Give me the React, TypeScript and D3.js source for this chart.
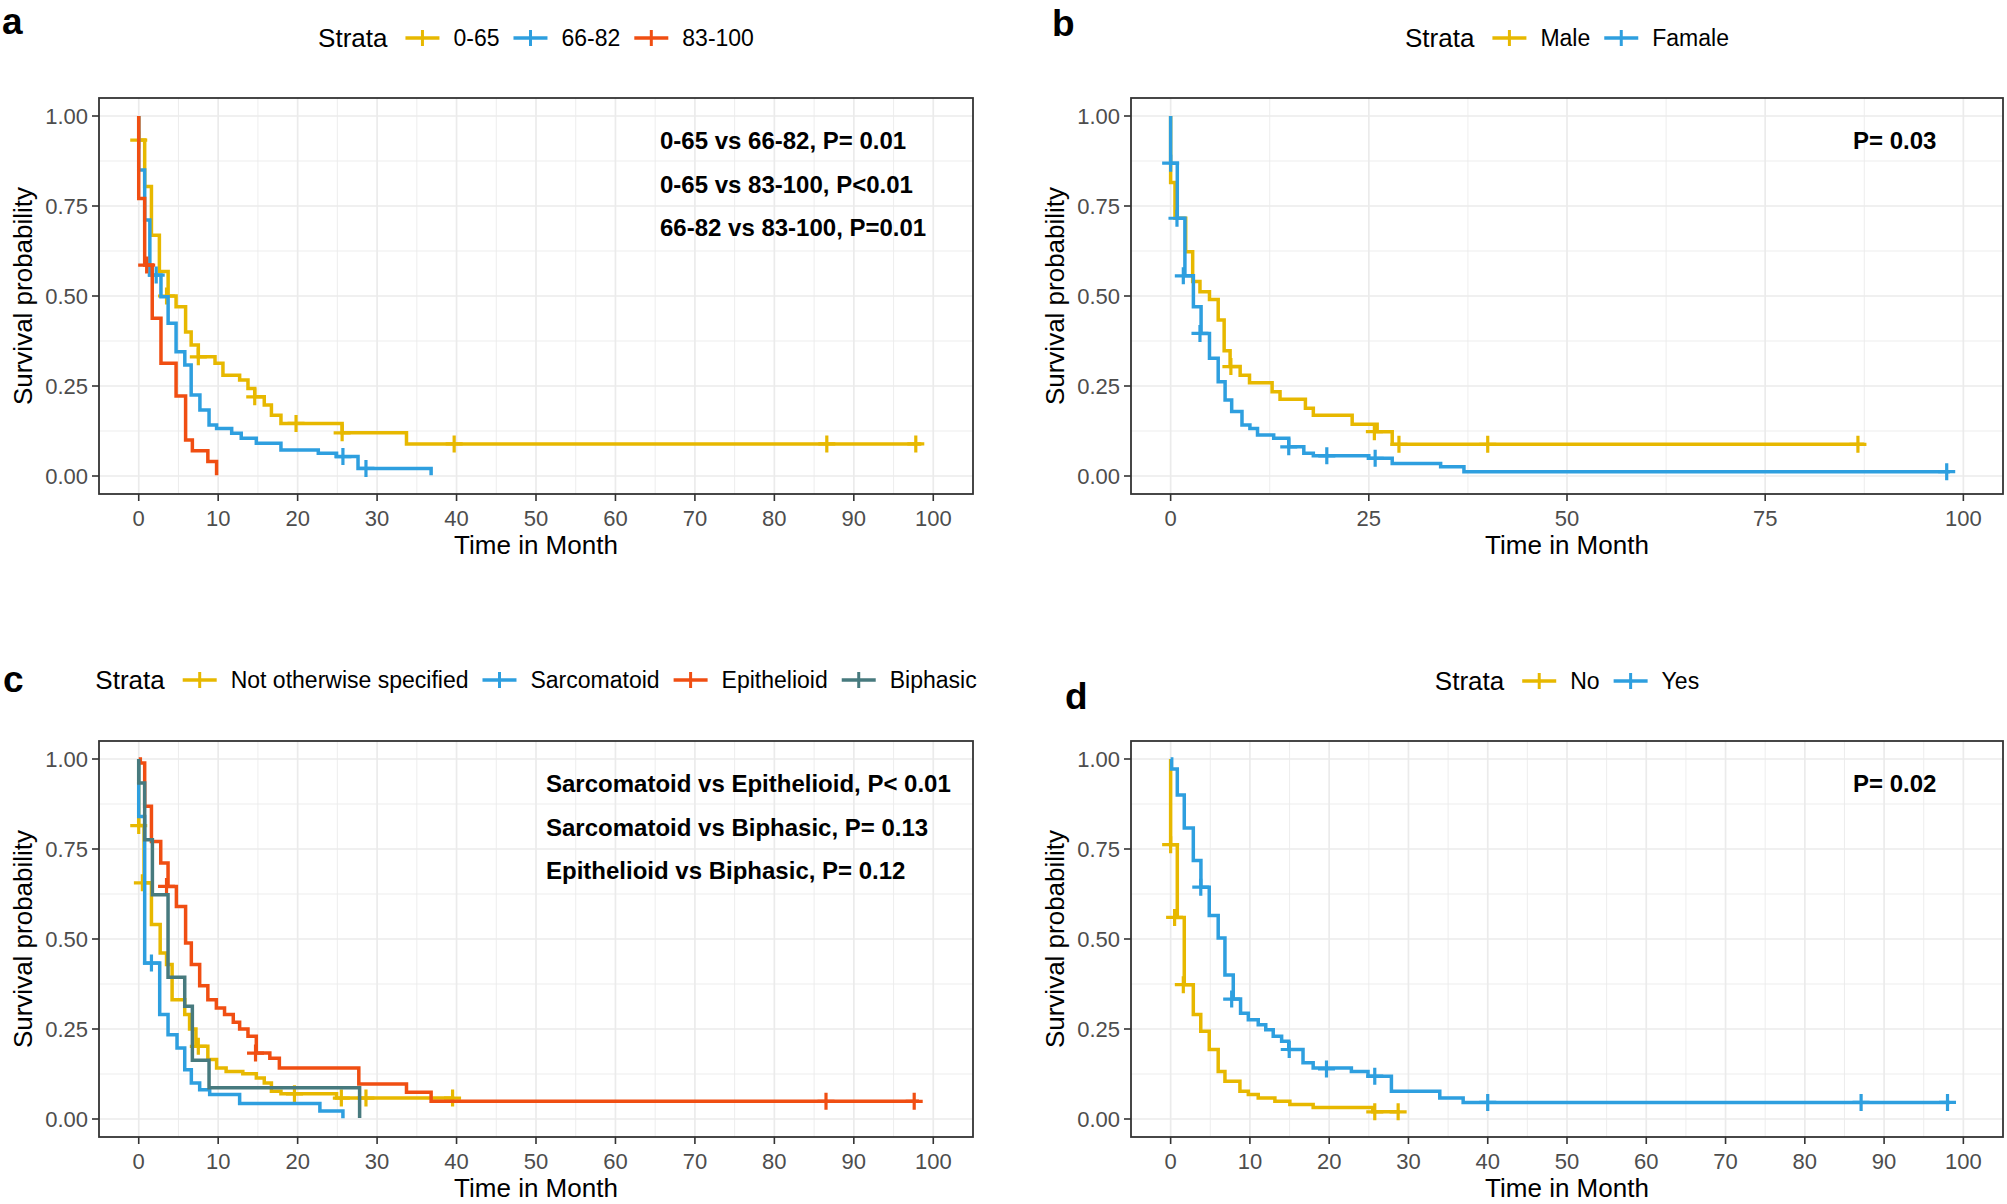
import { useMemo } from 'react';
import { scaleLinear, line, curveStepAfter, range } from 'd3';

type Pt = [number, number];

const YELLOW = '#E7B800';
const BLUE = '#2E9FDF';
const RED = '#F04E12';
const TEAL = '#477A7E';

const FONT = '"Liberation Sans", Arial, sans-serif';

// ---- panel a: age strata ----
const A_LABELS = ['0-65', '66-82', '83-100'];
const A_STEPS_0_65: Pt[] = [
  [0, 1], [0, 0.933], [0.75, 0.804], [1.6, 0.669], [2.6, 0.568], [3.7, 0.5], [4.7, 0.47],
  [5.9, 0.4], [6.6, 0.364], [7.5, 0.331], [9.6, 0.313], [10.6, 0.28], [12.7, 0.267],
  [13.75, 0.243], [14.6, 0.22], [15.8, 0.197], [16.7, 0.169], [17.9, 0.146], [25.6, 0.12],
  [33.7, 0.089], [98.5, 0.089],
];
const A_CENS_0_65: Pt[] = [
  [0, 0.933], [3.5, 0.5], [7.5, 0.331], [14.6, 0.22], [19.8, 0.146], [25.6, 0.12],
  [39.7, 0.089], [86.6, 0.089], [97.8, 0.089],
];
const A_STEPS_66_82: Pt[] = [
  [0, 1], [0, 0.85], [0.75, 0.711], [1.4, 0.558], [2.8, 0.498], [3.7, 0.424], [4.7, 0.345],
  [5.8, 0.308], [6.6, 0.225], [7.7, 0.183], [8.85, 0.142], [9.8, 0.132], [11.7, 0.119],
  [12.9, 0.105], [14.8, 0.091], [17.9, 0.072], [22.6, 0.063], [24.9, 0.054], [27.6, 0.021],
  [36.8, 0.002],
];
const A_CENS_66_82: Pt[] = [[2.2, 0.558], [25.7, 0.054], [28.6, 0.021]];
const A_STEPS_83_100: Pt[] = [
  [0, 1], [0, 0.771], [0.75, 0.586], [1.7, 0.438], [2.8, 0.313], [4.7, 0.222], [5.9, 0.1],
  [6.75, 0.07], [8.7, 0.04], [9.8, 0.002],
];
const A_CENS_83_100: Pt[] = [[1.0, 0.586]];
const A_NOTES = ['0-65 vs 66-82, P= 0.01', '0-65 vs 83-100, P<0.01', '66-82 vs 83-100, P=0.01'];

// ---- panel b: sex strata ----
const B_LABELS = ['Male', 'Famale'];
const B_STEPS_MALE: Pt[] = [
  [0, 1], [0, 0.815], [0.55, 0.716], [1.9, 0.623], [2.78, 0.54], [3.7, 0.512], [4.9, 0.49],
  [6.0, 0.433], [6.75, 0.348], [7.5, 0.304], [8.77, 0.28], [9.95, 0.259], [12.8, 0.234],
  [13.8, 0.213], [17.0, 0.188], [18.0, 0.169], [22.9, 0.144], [26.05, 0.123], [27.95, 0.088],
  [87.5, 0.088],
];
const B_CENS_MALE: Pt[] = [[7.6, 0.304], [25.7, 0.123], [28.8, 0.088], [40.0, 0.088], [86.7, 0.088]];
const B_STEPS_FEMALE: Pt[] = [
  [0, 1], [0, 0.869], [0.84, 0.716], [1.8, 0.556], [2.87, 0.47], [3.84, 0.396], [4.9, 0.327],
  [6.0, 0.262], [6.87, 0.211], [7.7, 0.179], [9.0, 0.142], [10.0, 0.132], [10.96, 0.114],
  [13.0, 0.105], [14.9, 0.081], [16.8, 0.063], [18.0, 0.056], [25.0, 0.049], [27.95, 0.035],
  [34.06, 0.026], [37.0, 0.012], [98.3, 0.012],
];
const B_CENS_FEMALE: Pt[] = [
  [0, 0.869], [0.8, 0.716], [1.6, 0.556], [3.7, 0.396], [14.9, 0.081], [19.7, 0.056],
  [25.8, 0.049], [97.9, 0.012],
];
const B_NOTES = ['P= 0.03'];

// ---- panel c: histology strata ----
const C_LABELS = ['Not otherwise specified', 'Sarcomatoid', 'Epithelioid', 'Biphasic'];
const C_STEPS_NOS: Pt[] = [
  [0, 1], [0, 0.815], [0.67, 0.656], [1.6, 0.54], [2.7, 0.461], [3.5, 0.429], [4.2, 0.331],
  [5.79, 0.29], [6.4, 0.25], [7.2, 0.202], [8.7, 0.165], [9.8, 0.142], [11.0, 0.132],
  [13.1, 0.126], [14.8, 0.114], [15.8, 0.1], [16.7, 0.077], [17.9, 0.07], [24.9, 0.058],
  [39.7, 0.058],
];
const C_CENS_NOS: Pt[] = [
  [0, 0.815], [0.46, 0.656], [7.5, 0.202], [19.6, 0.07], [25.5, 0.058], [28.6, 0.058], [39.5, 0.058],
];
const C_STEPS_SAR: Pt[] = [
  [0, 1], [0, 0.84], [0.75, 0.433], [2.64, 0.29], [3.69, 0.234], [4.82, 0.197], [5.79, 0.137],
  [6.62, 0.1], [7.67, 0.081], [8.93, 0.068], [12.7, 0.043], [22.8, 0.022], [25.7, 0.002],
];
const C_CENS_SAR: Pt[] = [[1.6, 0.433]];
const C_STEPS_EPI: Pt[] = [
  [0, 1], [0.2, 0.989], [0.75, 0.869], [1.6, 0.771], [2.77, 0.711], [3.69, 0.646], [4.74, 0.59],
  [5.9, 0.489], [6.62, 0.429], [7.67, 0.37], [8.7, 0.331], [9.77, 0.308], [10.8, 0.29],
  [11.9, 0.269], [12.7, 0.25], [13.75, 0.23], [14.8, 0.183], [16.5, 0.169], [17.7, 0.142],
  [27.7, 0.097], [33.7, 0.074], [36.8, 0.049], [98.2, 0.049],
];
const C_CENS_EPI: Pt[] = [[3.5, 0.646], [14.7, 0.183], [86.5, 0.049], [97.6, 0.049]];
const C_STEPS_BI: Pt[] = [
  [0, 1], [0, 0.933], [0.75, 0.776], [1.72, 0.623], [3.69, 0.394], [5.79, 0.313], [6.75, 0.163],
  [8.85, 0.087], [27.8, 0.003],
];
const C_CENS_BI: Pt[] = [];
const C_NOTES = [
  'Sarcomatoid vs Epithelioid, P< 0.01',
  'Sarcomatoid vs Biphasic, P= 0.13',
  'Epithelioid vs Biphasic, P= 0.12',
];

// ---- panel d: treatment strata ----
const D_LABELS = ['No', 'Yes'];
const D_STEPS_NO: Pt[] = [
  [0, 1], [0, 0.762], [0.84, 0.56], [1.72, 0.373], [2.86, 0.29], [3.8, 0.244], [4.87, 0.193],
  [6.0, 0.132], [6.85, 0.105], [8.74, 0.077], [9.8, 0.068], [11.05, 0.058], [13.15, 0.049],
  [15.04, 0.04], [17.98, 0.032], [25.5, 0.02], [28.9, 0.02],
];
const D_CENS_NO: Pt[] = [[0, 0.762], [0.5, 0.56], [1.6, 0.373], [25.75, 0.02], [28.7, 0.02]];
const D_STEPS_YES: Pt[] = [
  [0, 1], [0.13, 0.972], [0.84, 0.9], [1.72, 0.808], [2.86, 0.718], [3.82, 0.644], [4.87, 0.565],
  [6.0, 0.503], [6.85, 0.4], [7.9, 0.333], [8.82, 0.294], [9.8, 0.276], [11.05, 0.262],
  [12.0, 0.248], [12.94, 0.23], [14.0, 0.216], [14.9, 0.193], [16.7, 0.156], [17.98, 0.142],
  [22.8, 0.132], [24.9, 0.119], [27.85, 0.077], [33.95, 0.058], [36.9, 0.046], [98.3, 0.046],
];
const D_CENS_YES: Pt[] = [
  [3.8, 0.644], [7.7, 0.333], [14.96, 0.193], [19.66, 0.139], [25.75, 0.119], [40.0, 0.046],
  [87.1, 0.046], [98.0, 0.046],
];
const D_NOTES = ['P= 0.02'];

const X_TICKS_10 = range(0, 101, 10);
const X_MINOR_10 = range(5, 100, 10);
const X_TICKS_25 = [0, 25, 50, 75, 100];
const X_MINOR_25 = [12.5, 37.5, 62.5, 87.5];
const Y_TICKS = [0, 0.25, 0.5, 0.75, 1];
const Y_MINOR = [0.125, 0.375, 0.625, 0.875];

interface Group {
  label: string;
  color: string;
  steps: Pt[];
  cens: Pt[];
}

interface Box {
  left: number;
  right: number;
  top: number;
  bottom: number;
}

let measureCtx: CanvasRenderingContext2D | null = null;
function textWidth(s: string, font: string) {
  if (!measureCtx) measureCtx = document.createElement('canvas').getContext('2d');
  if (!measureCtx) return s.length * 12;
  measureCtx.font = font;
  return measureCtx.measureText(s).width;
}

function Legend({ cx, y, groups }: { cx: number; y: number; groups: Group[] }) {
  const titleW = textWidth('Strata', `26px ${FONT}`);
  const labelW = groups.map((g) => textWidth(g.label, `23px ${FONT}`));
  const KEY = 34;
  const total = titleW + 18 + labelW.reduce((s, w) => s + KEY + 14 + w, 0) + 14 * (groups.length - 1);
  let x = cx - total / 2;
  const items: JSX.Element[] = [];
  items.push(
    <text key="t" x={x} y={y + 9} fontSize={26} fill="#000">
      Strata
    </text>,
  );
  x += titleW + 18;
  groups.forEach((g, i) => {
    items.push(
      <g key={g.label} stroke={g.color} strokeWidth={3.4}>
        <line x1={x} x2={x + KEY} y1={y} y2={y} />
        <line x1={x + KEY / 2} x2={x + KEY / 2} y1={y - 8} y2={y + 8} strokeWidth={3} />
      </g>,
    );
    x += KEY + 14;
    items.push(
      <text key={g.label + 't'} x={x} y={y + 8} fontSize={23} fill="#000">
        {g.label}
      </text>,
    );
    x += labelW[i] + 14;
  });
  return <g>{items}</g>;
}

function KMPanel({
  box,
  xTicks,
  xMinor,
  groups,
  notes,
  noteX,
  letter,
  letterPos,
  legendY,
}: {
  box: Box;
  xTicks: number[];
  xMinor: number[];
  groups: Group[];
  notes: string[];
  noteX: number;
  letter: string;
  letterPos: [number, number];
  legendY: number;
}) {
  const x = useMemo(() => scaleLinear().domain([-5, 105]).range([box.left, box.right]), [box]);
  const y = useMemo(() => scaleLinear().domain([-0.05, 1.05]).range([box.bottom, box.top]), [box]);
  const stepLine = line<Pt>()
    .x((d) => x(d[0]))
    .y((d) => y(d[1]))
    .curve(curveStepAfter);
  const cx = (box.left + box.right) / 2;
  const cy = (box.top + box.bottom) / 2;
  const plus = (p: Pt) => {
    const px = x(p[0]);
    const py = y(p[1]);
    return `M${px - 8.5},${py}H${px + 8.5}M${px},${py - 8.5}V${py + 8.5}`;
  };

  return (
    <g>
      <text x={letterPos[0]} y={letterPos[1]} fontSize={37} fontWeight="bold" fill="#000">
        {letter}
      </text>
      <Legend cx={cx} y={legendY} groups={groups} />

      <rect x={box.left} y={box.top} width={box.right - box.left} height={box.bottom - box.top} fill="#fff" />
      {/* grid */}
      {xMinor.map((t) => (
        <line key={'xm' + t} x1={x(t)} x2={x(t)} y1={box.top} y2={box.bottom} stroke="#EBEBEB" strokeWidth={0.9} />
      ))}
      {Y_MINOR.map((t) => (
        <line key={'ym' + t} x1={box.left} x2={box.right} y1={y(t)} y2={y(t)} stroke="#EBEBEB" strokeWidth={0.9} />
      ))}
      {xTicks.map((t) => (
        <line key={'xg' + t} x1={x(t)} x2={x(t)} y1={box.top} y2={box.bottom} stroke="#EBEBEB" strokeWidth={1.7} />
      ))}
      {Y_TICKS.map((t) => (
        <line key={'yg' + t} x1={box.left} x2={box.right} y1={y(t)} y2={y(t)} stroke="#EBEBEB" strokeWidth={1.7} />
      ))}

      {/* curves */}
      {groups.map((g) => (
        <g key={g.label}>
          <path d={stepLine(g.steps) ?? ''} fill="none" stroke={g.color} strokeWidth={3.5} />
          <path d={g.cens.map(plus).join('')} fill="none" stroke={g.color} strokeWidth={3.2} />
        </g>
      ))}

      {notes.map((n, i) => (
        <text key={n} x={noteX} y={box.top + 51 + i * 43.5} fontSize={24} fontWeight="bold" fill="#000">
          {n}
        </text>
      ))}

      <rect
        x={box.left}
        y={box.top}
        width={box.right - box.left}
        height={box.bottom - box.top}
        fill="none"
        stroke="#333"
        strokeWidth={1.8}
      />

      {/* axes */}
      {xTicks.map((t) => (
        <g key={'xt' + t}>
          <line x1={x(t)} x2={x(t)} y1={box.bottom} y2={box.bottom + 7} stroke="#333" strokeWidth={1.6} />
          <text x={x(t)} y={box.bottom + 32} fontSize={22} fill="#4D4D4D" textAnchor="middle">
            {t}
          </text>
        </g>
      ))}
      {Y_TICKS.map((t) => (
        <g key={'yt' + t}>
          <line x1={box.left - 7} x2={box.left} y1={y(t)} y2={y(t)} stroke="#333" strokeWidth={1.6} />
          <text x={box.left - 11} y={y(t)} dy="0.36em" fontSize={22} fill="#4D4D4D" textAnchor="end">
            {t.toFixed(2)}
          </text>
        </g>
      ))}
      <text x={cx} y={box.bottom + 60} fontSize={26} fill="#000" textAnchor="middle">
        Time in Month
      </text>
      <text
        transform={`translate(${box.left - 67},${cy}) rotate(-90)`}
        fontSize={26}
        fill="#000"
        textAnchor="middle"
      >
        Survival probability
      </text>
    </g>
  );
}

const BOX_A: Box = { left: 99, right: 973, top: 98, bottom: 494 };
const BOX_B: Box = { left: 1131, right: 2003, top: 98, bottom: 494 };
const BOX_C: Box = { left: 99, right: 973, top: 741, bottom: 1137 };
const BOX_D: Box = { left: 1131, right: 2003, top: 741, bottom: 1137 };

export default function App() {
  const aGroups: Group[] = [
    { label: A_LABELS[0], color: YELLOW, steps: A_STEPS_0_65, cens: A_CENS_0_65 },
    { label: A_LABELS[1], color: BLUE, steps: A_STEPS_66_82, cens: A_CENS_66_82 },
    { label: A_LABELS[2], color: RED, steps: A_STEPS_83_100, cens: A_CENS_83_100 },
  ];
  const bGroups: Group[] = [
    { label: B_LABELS[0], color: YELLOW, steps: B_STEPS_MALE, cens: B_CENS_MALE },
    { label: B_LABELS[1], color: BLUE, steps: B_STEPS_FEMALE, cens: B_CENS_FEMALE },
  ];
  const cGroups: Group[] = [
    { label: C_LABELS[0], color: YELLOW, steps: C_STEPS_NOS, cens: C_CENS_NOS },
    { label: C_LABELS[1], color: BLUE, steps: C_STEPS_SAR, cens: C_CENS_SAR },
    { label: C_LABELS[2], color: RED, steps: C_STEPS_EPI, cens: C_CENS_EPI },
    { label: C_LABELS[3], color: TEAL, steps: C_STEPS_BI, cens: C_CENS_BI },
  ];
  const dGroups: Group[] = [
    { label: D_LABELS[0], color: YELLOW, steps: D_STEPS_NO, cens: D_CENS_NO },
    { label: D_LABELS[1], color: BLUE, steps: D_STEPS_YES, cens: D_CENS_YES },
  ];

  return (
    <div style={{ position: 'absolute', left: 0, top: 0, width: 2007, height: 1204, overflow: 'hidden' }}>
      <svg width={2007} height={1204} style={{ display: 'block', background: '#fff' }} fontFamily={FONT}>
        <rect width={2007} height={1204} fill="#fff" />
        <KMPanel
          box={BOX_A}
          xTicks={X_TICKS_10}
          xMinor={X_MINOR_10}
          groups={aGroups}
          notes={A_NOTES}
          noteX={660}
          letter="a"
          letterPos={[2, 34]}
          legendY={38}
        />
        <KMPanel
          box={BOX_B}
          xTicks={X_TICKS_25}
          xMinor={X_MINOR_25}
          groups={bGroups}
          notes={B_NOTES}
          noteX={1853}
          letter="b"
          letterPos={[1052, 36]}
          legendY={38}
        />
        <KMPanel
          box={BOX_C}
          xTicks={X_TICKS_10}
          xMinor={X_MINOR_10}
          groups={cGroups}
          notes={C_NOTES}
          noteX={546}
          letter="c"
          letterPos={[3, 692]}
          legendY={680}
        />
        <KMPanel
          box={BOX_D}
          xTicks={X_TICKS_10}
          xMinor={X_MINOR_10}
          groups={dGroups}
          notes={D_NOTES}
          noteX={1853}
          letter="d"
          letterPos={[1065, 709]}
          legendY={681}
        />
      </svg>
    </div>
  );
}
